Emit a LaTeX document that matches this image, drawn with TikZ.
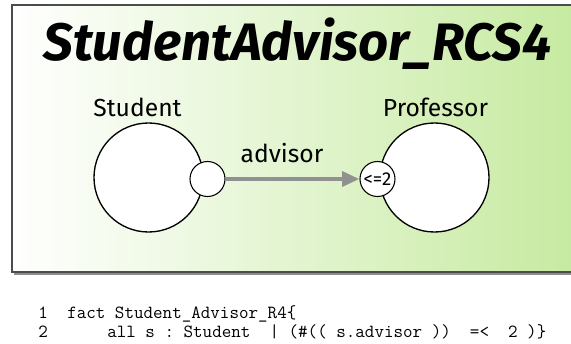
\documentclass[tikz,border=0pt]{standalone}
\usepackage{fontspec}
\setmainfont{Fira Sans}
\usepackage{tikz}
\usetikzlibrary{arrows.meta}
\usetikzlibrary{positioning}
\definecolor{sigbg}{RGB}{198,234,160}
\definecolor{arrowgray}{RGB}{145,145,145}

\begin{document}
\begin{tikzpicture}[x=0.75pt, y=-0.75pt,
    sig/.style={circle, draw, fill=white, line width=1pt,
      minimum size=81.75pt, inner sep=0pt},
    port/.style={circle, draw, fill=white, line width=0.8pt,
      minimum size=26.25pt, inner sep=0pt,
      font=\fontsize{14}{16}\selectfont},
    signame/.style={anchor=base, font=\fontsize{18.5}{20}\selectfont},
    code/.style={anchor=base west, inner sep=0pt,
      font=\ttfamily\fontsize{13.9}{15}\selectfont}]

    \useasboundingbox (0,0) rectangle (571,343);
    \fill [white] (0,0) rectangle (571,343);

    % frame with its shadow
    \fill [black!45] (14,272) rectangle (571,275);
    \shade [left color=white, right color=sigbg] (12,5) rectangle (580,272);
    \draw [black!70, line width=1.1pt] (580,5) -- (12,5) -- (12,272) -- (580,272);

    \node [anchor=base, font=\fontsize{39.5}{41}\selectfont\bfseries\itshape]
    (title) at (297.5,60) {StudentAdvisor\_RCS4};

    \node [sig] (student) at (148.5,177.5) {};
    \node [sig] (professor) at (434.5,177.5) {};
    \node [signame] (studentname) at (137.5,116) {Student};
    \node [signame] (professorname) at (435.5,116) {Professor};

    \node [port] (src) at (207.5,179) {};
    \node [port] (dst) at (377.5,179) {<=2};

    \draw [-{Triangle[length=13pt, width=11pt]}, arrowgray, line width=3pt]
    (src) -- (dst);
    \node [signame] (advisor) at (282,162) {advisor};

    \node [code] (num1) at (38,318) {1};
    \node [code] (line1) at (67,318) {fact Student\_Advisor\_R4\{};
    \node [code] (num2) at (38,337) {2};
    \node [code] (line2) at (107,337)
    {all~s~:~Student~~|~(\#((~s.advisor~))~~=<~~2~)\}};

  \end{tikzpicture}
\end{document}
